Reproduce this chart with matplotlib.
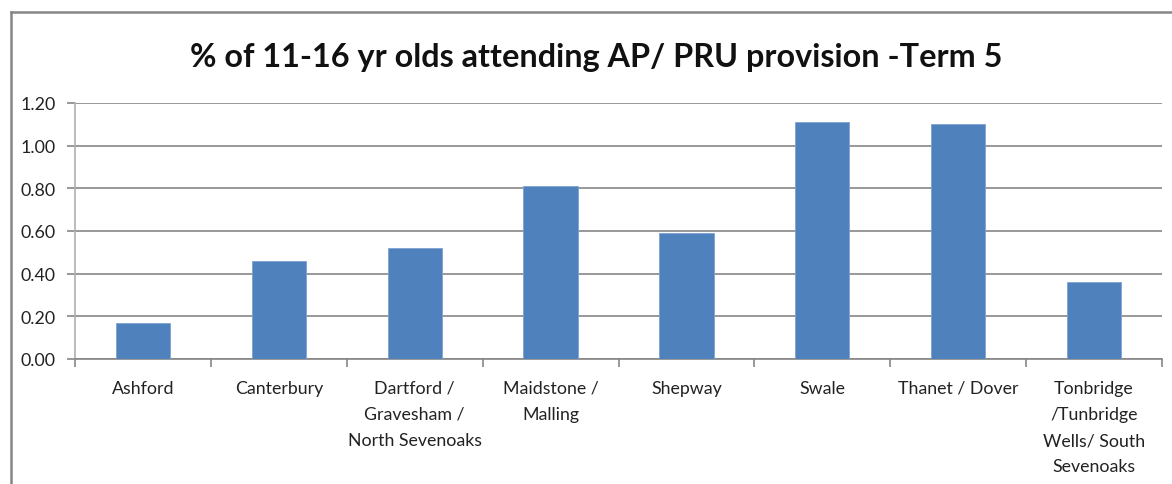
import matplotlib
matplotlib.use("Agg")
import matplotlib.pyplot as plt
from matplotlib.lines import Line2D

# Term 5 AP/PRU attendance by district
districts = [
    "Ashford",
    "Canterbury",
    "Dartford /\nGravesham /\nNorth Sevenoaks",
    "Maidstone /\nMalling",
    "Shepway",
    "Swale",
    "Thanet / Dover",
    "Tonbridge\n/Tunbridge\nWells/ South\nSevenoaks",
]
pct_attending = [0.17, 0.46, 0.52, 0.81, 0.59, 1.11, 1.10, 0.36]
y_ticks = [0.0, 0.2, 0.4, 0.6, 0.8, 1.0, 1.2]

BAR = "#4f81bd"
GRID = "#868686"

plt.rcParams["font.family"] = ["Lato", "DejaVu Sans"]

fig = plt.figure(figsize=(11.72, 4.85), dpi=100)
ax = fig.add_axes([75 / 1172, 1 - 360 / 485, 1087 / 1172, 256 / 485])

x = list(range(len(districts)))
ax.bar(x, pct_attending, width=0.4, color=BAR, edgecolor="#7fa1d0", linewidth=0.6, zorder=3)

ax.set_xlim(-0.5, len(districts) - 0.5)
ax.set_ylim(0, 1.2)
ax.set_yticks(y_ticks)
ax.set_yticklabels([f"{v:.2f}" for v in y_ticks], fontsize=12.8, color="#222222")
ax.yaxis.grid(True, color=GRID, linewidth=1.2, zorder=0)

# category labels between boundary ticks
ax.set_xticks(x)
ax.set_xticklabels(districts, fontsize=12.8, color="#222222", linespacing=1.78, va="top")
ax.tick_params(axis="x", length=0, pad=15)
ax.set_xticks([i - 0.5 for i in range(len(districts) + 1)], minor=True)
ax.tick_params(axis="x", which="minor", length=6, color=GRID, width=1.2)
ax.tick_params(axis="y", length=6, color=GRID, width=1.2, pad=8)

for side in ["top", "right"]:
    ax.spines[side].set_visible(False)
ax.spines["left"].set_color("#b0b0b0")
ax.spines["left"].set_linewidth(1.2)
ax.spines["bottom"].set_color(GRID)
ax.spines["bottom"].set_linewidth(1.2)

fig.text(0.509, 1 - 58 / 485, "% of 11-16 yr olds attending AP/ PRU provision -Term 5",
         ha="center", va="center", fontsize=23.3, fontweight="bold", color="#111111")

# chart frame
fx, fy = 10.5 / 1172, 1 - 13 / 485
fig.add_artist(Line2D([fx, fx], [0, fy], transform=fig.transFigure, color=GRID, linewidth=1.8))
fig.add_artist(Line2D([fx, 1], [fy, fy], transform=fig.transFigure, color=GRID, linewidth=1.8))

fig.savefig("out.png", dpi=100, facecolor="white")
